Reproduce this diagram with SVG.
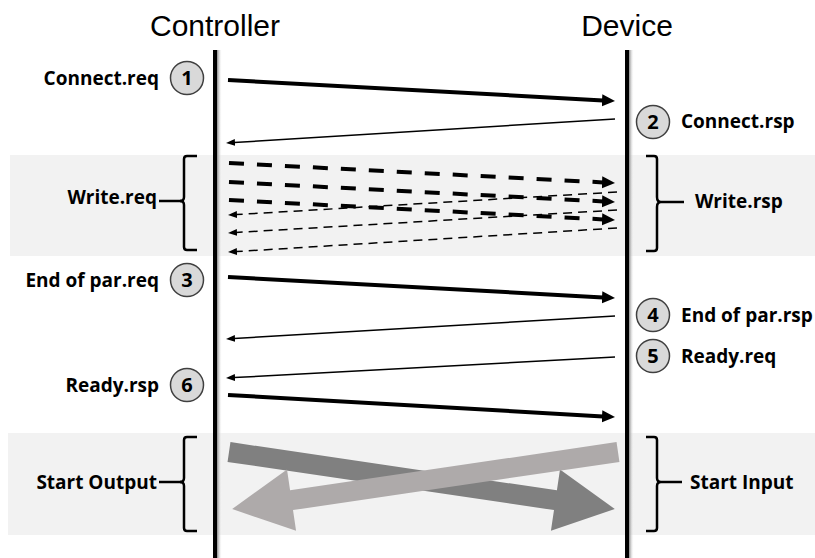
<svg xmlns="http://www.w3.org/2000/svg" width="815" height="558" viewBox="0 0 815 558">
<style>
.title{font-family:"Liberation Sans",Arial,sans-serif;font-size:30px;fill:#000}
.lbl{font-family:"Open Sans","Liberation Sans",sans-serif;font-weight:bold;font-size:19px;fill:#000}
.num{font-family:"Open Sans","Liberation Sans",sans-serif;font-weight:bold;font-size:20px;fill:#000;text-anchor:middle}
.circ{fill:#d9d9d9;stroke:#404040;stroke-width:1.5}
.band{fill:#f2f2f2}
.life{stroke:#000;stroke-width:4}
.brk{fill:none;stroke:#000;stroke-width:2.5}
.thick{stroke:#000;stroke-width:4;fill:none;marker-end:url(#hThick)}
.thin{stroke:#000;stroke-width:1.5;fill:none;marker-end:url(#hThin)}
.thickd{stroke:#000;stroke-width:4;fill:none;stroke-dasharray:15 13;marker-end:url(#hThick)}
.thind{stroke:#000;stroke-width:1.5;fill:none;stroke-dasharray:9 6;marker-end:url(#hThin)}
</style>
<defs>
<marker id="hThick" markerUnits="userSpaceOnUse" markerWidth="14" markerHeight="14" viewBox="0 -7 14 14" refX="1" refY="0" orient="auto"><path d="M0,-6 L13,0 L0,6 z" fill="#000"/></marker>
<marker id="hThin" markerUnits="userSpaceOnUse" markerWidth="10" markerHeight="8" viewBox="0 -4 10 8" refX="1" refY="0" orient="auto"><path d="M0,-3.5 L9,0 L0,3.5 z" fill="#000"/></marker>
<linearGradient id="shadow" x1="0" y1="0" x2="1" y2="0"><stop offset="0" stop-color="#8a8a8a"/><stop offset="1" stop-color="#ffffff" stop-opacity="0"/></linearGradient>
<path id="bigArrow" d="M0,-10 L330,-10 L330,-31 L390,0 L330,31 L330,10 L0,10 z"/>
</defs>

<g id="bands">
<rect class="band" x="10" y="155" width="805" height="101"/>
<rect class="band" x="8" y="433" width="807" height="102"/>
</g>

<g id="controller">
<text class="title" x="215" y="36" text-anchor="middle">Controller</text>
<rect x="217" y="50" width="5" height="508" fill="url(#shadow)"/>
<line class="life" x1="215" y1="50" x2="215" y2="558"/>
</g>
<g id="device">
<text class="title" x="627" y="36" text-anchor="middle">Device</text>
<rect x="629" y="50" width="5" height="508" fill="url(#shadow)"/>
<line class="life" x1="627" y1="50" x2="627" y2="558"/>
</g>

<g id="step1">
<text class="lbl" x="159" y="85" text-anchor="end">Connect.req</text>
<circle class="circ" cx="187" cy="78" r="16.5"/>
<text class="num" x="187" y="85">1</text>
</g>
<g id="step2">
<circle class="circ" cx="653" cy="122" r="16.5"/>
<text class="num" x="653" y="129">2</text>
<text class="lbl" x="681" y="128">Connect.rsp</text>
</g>
<g id="step3">
<text class="lbl" x="159" y="287" text-anchor="end">End of par.req</text>
<circle class="circ" cx="187" cy="280" r="16.5"/>
<text class="num" x="187" y="287">3</text>
</g>
<g id="step4">
<circle class="circ" cx="653" cy="315" r="16.5"/>
<text class="num" x="653" y="322">4</text>
<text class="lbl" x="681" y="322">End of par.rsp</text>
</g>
<g id="step5">
<circle class="circ" cx="653" cy="356" r="16.5"/>
<text class="num" x="653" y="363">5</text>
<text class="lbl" x="681" y="363">Ready.req</text>
</g>
<g id="step6">
<text class="lbl" x="159" y="392" text-anchor="end">Ready.rsp</text>
<circle class="circ" cx="187" cy="385" r="16.5"/>
<text class="num" x="187" y="392">6</text>
</g>

<g id="write-req">
<text class="lbl" x="157" y="204" text-anchor="end">Write.req</text>
<path class="brk" d="M197,156 h-10 q-3,0 -3,3 v38 q0,4 -4,4 q4,0 4,4 v42 q0,3 3,3 h10"/>
<line class="brk" x1="159" y1="201" x2="181" y2="201"/>
</g>
<g id="write-rsp">
<path class="brk" d="M646,156 h8 q3,0 3,3 v38 q0,5 4,5 q-4,0 -4,5 v41 q0,3 -3,3 h-8"/>
<line class="brk" x1="661" y1="202" x2="684" y2="202"/>
<text class="lbl" x="695" y="208">Write.rsp</text>
</g>
<g id="start-output">
<text class="lbl" x="157" y="489" text-anchor="end">Start Output</text>
<path class="brk" d="M197,437 h-10 q-3,0 -3,3 v38 q0,4 -4,4 q4,0 4,4 v42 q0,3 3,3 h10"/>
<line class="brk" x1="159" y1="482" x2="181" y2="482"/>
</g>
<g id="start-input">
<path class="brk" d="M646,437 h8 q3,0 3,3 v38 q0,4 4,4 q-4,0 -4,4 v42 q0,3 -3,3 h-8"/>
<line class="brk" x1="661" y1="482" x2="682" y2="482"/>
<text class="lbl" x="690" y="489">Start Input</text>
</g>

<g id="connectors">
<line class="thick" x1="228" y1="80" x2="603" y2="100.4"/>
<line class="thin" x1="615" y1="119" x2="234" y2="142.5"/>

<line class="thickd" x1="229" y1="163" x2="603" y2="182.4"/>
<line class="thickd" x1="229" y1="182" x2="603" y2="201.4"/>
<line class="thickd" x1="229" y1="200" x2="603" y2="219.4"/>
<line class="thind" x1="617" y1="192" x2="236" y2="214.6"/>
<line class="thind" x1="617" y1="210" x2="236" y2="232.5"/>
<line class="thind" x1="617" y1="228" x2="236" y2="251.6"/>

<line class="thick" x1="228" y1="277" x2="603" y2="297.4"/>
<line class="thin" x1="615" y1="316" x2="234" y2="338.5"/>
<line class="thin" x1="615" y1="357" x2="234" y2="377.6"/>
<line class="thick" x1="228" y1="395" x2="603" y2="416.4"/>

<use href="#bigArrow" fill="#808080" transform="translate(229,452) rotate(8.4)"/>
<use href="#bigArrow" fill="#aeaaaa" transform="translate(618,452) rotate(171.6)"/>
</g>
</svg>
